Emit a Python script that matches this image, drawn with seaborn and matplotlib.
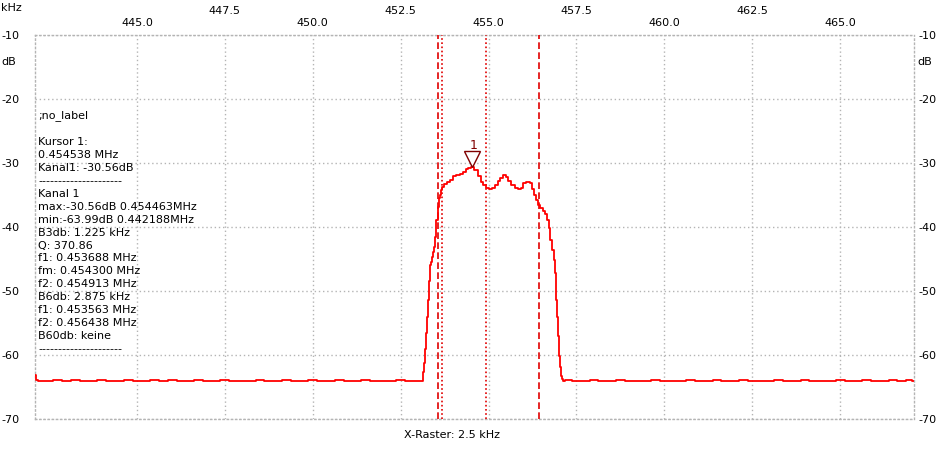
import seaborn as sns
import matplotlib.pyplot as plt
import pandas as pd
from matplotlib.transforms import offset_copy

# noise floor below the passband
floor_left_khz = [
    442.10, 442.13, 442.25, 442.50, 442.75, 443.00, 443.25, 443.50, 443.75, 444.00,
    444.25, 444.50, 444.75, 445.00, 445.25, 445.50, 445.75, 446.00, 446.25, 446.50,
    446.75, 447.00, 447.25, 447.50, 447.75, 448.00, 448.25, 448.50, 448.75, 449.00,
    449.25, 449.50, 449.75, 450.00, 450.25, 450.50, 450.75, 451.00, 451.25, 451.50,
    451.75, 452.00, 452.25, 452.50, 452.75, 453.00, 453.10]
floor_left_db = [
    -63.2, -63.9, -64.1, -64.0, -63.9, -64.1, -63.9, -64.0, -64.1, -63.9,
    -64.0, -64.1, -63.9, -64.0, -64.1, -63.9, -64.0, -63.9, -64.1, -64.0,
    -63.9, -64.1, -64.0, -63.9, -64.1, -64.0, -64.0, -63.9, -64.1, -64.0,
    -63.9, -64.1, -64.0, -63.9, -64.0, -64.1, -63.9, -64.0, -64.1, -63.9,
    -64.0, -64.0, -64.1, -63.9, -64.1, -64.0, -64.1]

# filter passband
band_khz = [
    453.15, 453.18, 453.21, 453.24, 453.26, 453.29, 453.32, 453.35, 453.37, 453.40,
    453.43, 453.46, 453.47, 453.49, 453.54, 453.57, 453.59, 453.62, 453.66, 453.70,
    453.77, 453.84, 453.94, 454.03, 454.13, 454.22, 454.32, 454.39, 454.46, 454.54,
    454.65, 454.74, 454.81, 454.89, 454.98, 455.07, 455.14, 455.22, 455.29, 455.36,
    455.45, 455.52, 455.60, 455.69, 455.79, 455.88, 455.96, 456.02, 456.12, 456.21,
    456.26, 456.31, 456.36, 456.43, 456.50, 456.57, 456.64, 456.69, 456.73, 456.78,
    456.83, 456.87, 456.90, 456.92, 456.95, 456.99, 457.02, 457.04, 457.07, 457.09]
band_db = [
    -62.6, -61.2, -59.0, -56.5, -54.0, -51.4, -48.4, -45.9, -45.5, -44.7,
    -43.9, -43.1, -42.0, -41.6, -38.9, -36.9, -35.5, -35.0, -34.2, -33.7,
    -33.3, -32.9, -32.6, -32.05, -31.8, -31.7, -31.4, -31.0, -30.85, -30.56,
    -31.1, -32.0, -32.9, -33.45, -33.9, -34.1, -33.9, -33.45, -32.8, -32.3,
    -31.9, -32.2, -32.8, -33.45, -33.95, -34.1, -33.9, -33.2, -32.9, -33.2,
    -34.0, -35.0, -35.8, -36.6, -37.1, -37.5, -37.9, -38.9, -40.2, -42.0,
    -43.6, -45.1, -47.2, -51.4, -54.0, -57.1, -60.2, -61.8, -63.3, -63.8]

# noise floor above the passband
floor_right_khz = [
    457.12, 457.25, 457.50, 457.75, 458.00, 458.25, 458.50, 458.75, 459.00, 459.25,
    459.50, 459.75, 460.00, 460.25, 460.50, 460.75, 461.00, 461.25, 461.50, 461.75,
    462.00, 462.25, 462.50, 462.75, 463.00, 463.25, 463.50, 463.75, 464.00, 464.25,
    464.50, 464.75, 465.00, 465.25, 465.50, 465.75, 466.00, 466.25, 466.50, 466.75,
    467.00, 467.10]
floor_right_db = [
    -64.1, -63.9, -64.1, -64.0, -63.9, -64.1, -64.1, -63.9, -64.1, -64.0,
    -64.1, -63.9, -64.1, -64.1, -64.0, -63.9, -64.1, -64.1, -63.9, -64.1,
    -64.1, -63.9, -64.0, -64.1, -64.1, -63.9, -64.1, -64.1, -63.9, -64.1,
    -64.1, -64.1, -63.9, -64.1, -64.1, -63.9, -64.1, -64.1, -63.9, -64.1,
    -63.9, -64.1]

x_ticks = [445.0, 447.5, 450.0, 452.5, 455.0, 457.5, 460.0, 462.5, 465.0]
y_ticks = [-10, -20, -30, -40, -50, -60, -70]

cursor_khz = 454.538
cursor_db = -30.56
b3_khz = [453.688, 454.913]   # dotted
b6_khz = [453.563, 456.438]   # dashed

info_lines = [
    ';no_label', '', 'Kursor 1:', '0.454538 MHz', 'Kanal1: -30.56dB',
    '---------------------', 'Kanal 1',
    'max:-30.56dB 0.454463MHz', 'min:-63.99dB 0.442188MHz',
    'B3db: 1.225 kHz', 'Q: 370.86', 'f1: 0.453688 MHz', 'fm: 0.454300 MHz',
    'f2: 0.454913 MHz', 'B6db: 2.875 kHz', 'f1: 0.453563 MHz',
    'f2: 0.456438 MHz', 'B60db: keine', '---------------------']


def main():
    sns.set_style('white')
    plt.rcParams['font.family'] = ['DejaVu Sans']
    plt.rcParams['font.size'] = 8
    plt.rcParams['axes.unicode_minus'] = False
    plt.rcParams['text.color'] = 'black'
    plt.rcParams['xtick.color'] = 'black'
    plt.rcParams['ytick.color'] = 'black'

    df = pd.DataFrame({
        'freq': floor_left_khz + band_khz + floor_right_khz,
        'level': floor_left_db + band_db + floor_right_db,
    })

    W, H = 949, 454
    fig = plt.figure(figsize=(W / 100, H / 100), dpi=100)
    ax = fig.add_axes([35 / W, 1 - 419 / H, (914 - 35) / W, (419 - 35) / H])

    grid_col = '#b4b4b4'
    dot = (0, (1, 2))
    ax.grid(True, color=grid_col, linestyle=dot, lw=1)
    for s in ax.spines.values():
        s.set_color(grid_col)
        s.set_linestyle(dot)
        s.set_linewidth(1)

    for f in b6_khz:
        ax.axvline(f, color='#e00000', ls=(0, (4, 2)), lw=1.2, zorder=3)
    for f in b3_khz:
        ax.axvline(f, color='#e00000', ls=(0, (1, 1.5)), lw=1.2, zorder=3)

    sns.lineplot(data=df, x='freq', y='level', ax=ax, color='#ff0000', lw=1.3,
                 drawstyle='steps-mid', estimator=None, sort=False, zorder=4)

    ax.set_xlim(442.1, 467.1)
    ax.set_ylim(-70, -10)
    ax.set_xlabel('')
    ax.set_ylabel('')

    # top tick labels in two staggered rows
    ax.xaxis.tick_top()
    ax.set_xticks(x_ticks)
    ax.set_xticklabels([f'{t:.1f}' if i % 2 == 0 else f'{t:.1f}\n'
                        for i, t in enumerate(x_ticks)])
    ax.tick_params(axis='x', length=0, pad=5, labelsize=8, labelcolor='black')

    ax.set_yticks(y_ticks)
    ax.set_yticklabels([str(t) for t in y_ticks])
    ax.tick_params(axis='y', length=0, pad=11, labelsize=8, labelcolor='black')
    sec = ax.secondary_yaxis('right')
    sec.set_yticks(y_ticks)
    sec.set_yticklabels([str(t) for t in y_ticks])
    sec.tick_params(length=0, pad=3, labelsize=8, labelcolor='black')
    for s in sec.spines.values():
        s.set_visible(False)

    # cursor marker
    ax.plot([cursor_khz], [cursor_db], marker='v', ms=11.5, mfc='white',
            mec='#800000', mew=1, zorder=5,
            transform=offset_copy(ax.transData, fig, y=5.75, units='points'))
    ax.annotate('1', (cursor_khz, cursor_db), xytext=(1, 15),
                textcoords='offset points', ha='center', va='center',
                color='#800000', fontsize=9)

    fig.text(1 / W, 1 - 8 / H, 'kHz', va='center', fontsize=8)
    fig.text(1 / W, 1 - 62 / H, 'dB', va='center', fontsize=8)
    fig.text(917 / W, 1 - 62 / H, 'dB', va='center', fontsize=8)
    fig.text(38 / W, 1 - 110 / H, '\n'.join(info_lines), va='top',
             fontsize=8, linespacing=1.37)
    fig.text(452 / W, 1 - 435 / H, 'X-Raster: 2.5 kHz', ha='center',
             va='center', fontsize=8)

    fig.savefig('out.png', dpi=100)


if __name__ == '__main__':
    main()
